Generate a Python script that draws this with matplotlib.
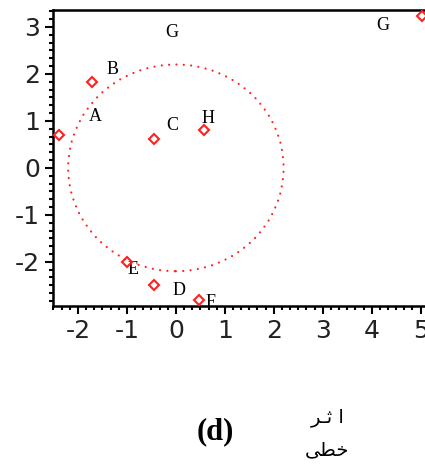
import matplotlib
matplotlib.use('Agg')
import matplotlib.pyplot as plt
from matplotlib.patches import Circle
from matplotlib.ticker import AutoMinorLocator

plt.rcParams['axes.unicode_minus'] = False

# point markers (open red diamonds)
point_x = [-2.39, -1.71, -0.45, 0.57, 5.02, -1.0, -0.45, 0.47]
point_y = [0.70, 1.83, 0.62, 0.81, 3.23, -2.0, -2.49, -2.81]

# letter labels and where they sit
label_text = ['G', 'G', 'B', 'A', 'C', 'H', 'E', 'D', 'F']
label_x = [-0.08, 4.22, -1.29, -1.65, -0.08, 0.65, -0.88, 0.06, 0.71]
label_y = [2.89, 3.04, 2.09, 1.09, 0.91, 1.06, -2.17, -2.62, -2.87]

# dotted circle
circle_center = (0.0, 0.0)
circle_radius = 2.2

x_ticks = [-2, -1, 0, 1, 2, 3, 4, 5]
y_ticks = [-2, -1, 0, 1, 2, 3]

# caption: "(d)" and Arabic text, written in visual order with presentation forms
caption = '(d)'
arabic_line1 = '\ufeae\u0640\ufe9b \ufe8d'   # اثـر
arabic_line2 = '\ufbfd\ufec4\ufea7'          # خطی

fig = plt.figure(figsize=(4.25, 4.7), dpi=100)
ax = fig.add_axes([53 / 425, 164 / 470, 375 / 425, 296 / 470])

ax.add_patch(Circle(circle_center, circle_radius, fill=False, edgecolor='#ff2020',
                    linewidth=1.6, linestyle=(0, (0.01, 3.3)), capstyle='round'))

ax.plot(point_x, point_y, linestyle='none', marker='D', markersize=5.5,
        markerfacecolor='none', markeredgecolor='#ff2020', markeredgewidth=1.5,
        clip_on=False, zorder=4)

for t, lx, ly in zip(label_text, label_x, label_y):
    ax.text(lx, ly, t, fontsize=13, family='Liberation Serif', ha='center',
            va='center', color='black', zorder=1)

ax.set_xlim(-2.51, 5.15)
ax.set_ylim(-2.94, 3.36)
ax.set_xticks(x_ticks)
ax.set_yticks(y_ticks)
ax.xaxis.set_minor_locator(AutoMinorLocator(6))
ax.yaxis.set_minor_locator(AutoMinorLocator(6))
ax.tick_params(which='major', direction='out', length=6, width=1.5, labelsize=18)
ax.tick_params(which='minor', direction='out', length=3, width=1.5)
for lab in ax.get_xticklabels() + ax.get_yticklabels():
    lab.set_color('#222222')
for s in ax.spines.values():
    s.set_linewidth(1.8)

fig.text(0.506, 0.081, caption, fontsize=22, fontweight='bold',
         family='Liberation Serif', ha='center', va='center')
fig.text(0.77, 0.111, arabic_line1, fontsize=14, family=['DejaVu Sans'],
         ha='center', va='center')
fig.text(0.77, 0.043, arabic_line2, fontsize=14, family=['DejaVu Sans'],
         ha='center', va='center')

fig.savefig('out.png', dpi=100)
